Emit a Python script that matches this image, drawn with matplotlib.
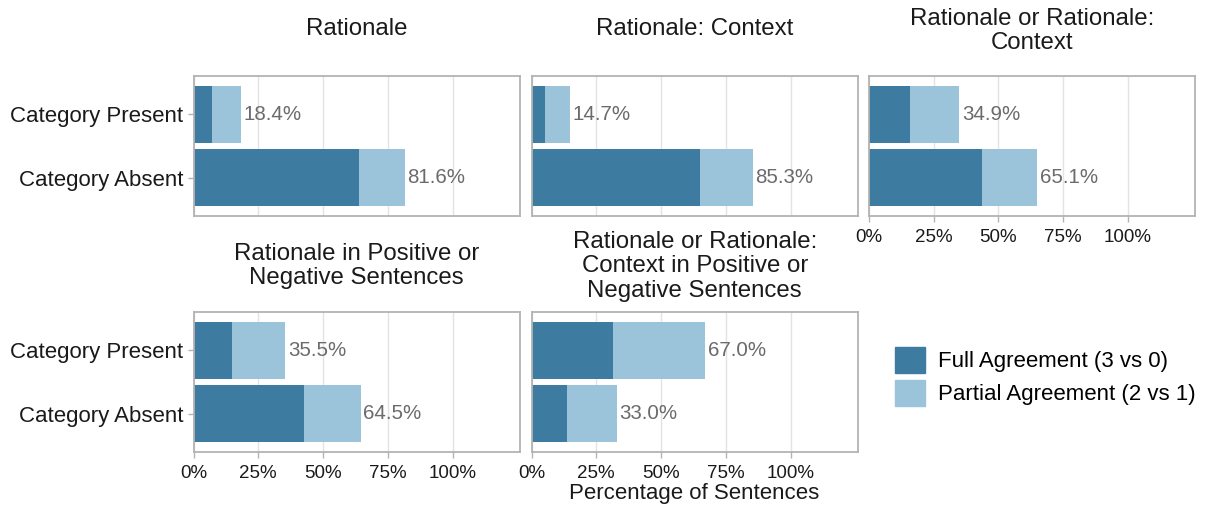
import numpy as np
import matplotlib
matplotlib.use("Agg")
import matplotlib.pyplot as plt
from matplotlib.patches import Patch

plt.rcParams['font.family'] = ['Liberation Sans', 'DejaVu Sans']

# data (percent of sentences)
panel_titles = ["Rationale", "Rationale: Context", "Rationale or Rationale:\nContext",
                "Rationale in Positive or\nNegative Sentences",
                "Rationale or Rationale:\nContext in Positive or\nNegative Sentences"]
categories = ["Category Absent", "Category Present"]
# [absent, present]
full_agree = [[63.8, 7.3], [65.1, 5.1], [43.7, 16.0], [42.8, 14.7], [13.6, 31.3]]
total_pct = [[81.6, 18.4], [85.3, 14.7], [65.1, 34.9], [64.5, 35.5], [33.0, 67.0]]

dark = "#3d7ca0"
light = "#9bc3da"
W, H = 1207, 508

fig = plt.figure(figsize=(W / 100, H / 100), dpi=100)

cols = [(193.5, 520), (531.5, 858), (869, 1195)]
rows = [(76, 216), (312, 452)]
layout = [(0, 0), (0, 1), (0, 2), (1, 0), (1, 1)]
title_y = [29, 29, 31, 266, 266.5]

for i, (r, c) in enumerate(layout):
    x0, x1 = cols[c]
    t, b = rows[r]
    ax = fig.add_axes([x0 / W, 1 - b / H, (x1 - x0) / W, (b - t) / H])
    y = np.arange(1, len(categories) + 1)
    full = np.array(full_agree[i])
    tot = np.array(total_pct[i])
    ax.barh(y, full, height=0.9, color=dark, zorder=2)
    ax.barh(y, tot - full, left=full, height=0.9, color=light, zorder=2)
    for yy, v in zip(y, tot):
        ax.text(v + 1.0, yy, f"{v:.1f}%", va="center", ha="left",
                fontsize=14.8, color="#6b6b6b", zorder=3)
    ax.set_xlim(0, 126)
    ax.set_ylim(0.4, 2.6)
    ax.set_xticks([0, 25, 50, 75, 100])
    ax.grid(axis="x", color="#e3e3e3", linewidth=1, zorder=0)
    ax.set_axisbelow(True)
    for s in ax.spines.values():
        s.set_color("#b3b3b3")
        s.set_linewidth(1.3)
    ax.tick_params(colors="#b3b3b3", labelcolor="#1a1a1a", labelsize=13.5, length=4, width=1)
    ax.tick_params(axis="x", pad=5.5)

    if c == 0:
        ax.set_yticks(y)
        ax.set_yticklabels(categories, fontsize=16)
    else:
        ax.set_yticks([])
    if r == 1 or c == 2:
        ax.set_xticklabels(["0%", "25%", "50%", "75%", "100%"])
    else:
        ax.tick_params(axis="x", length=0, labelbottom=False)

    fig.text((x0 + x1) / 2 / W, 1 - title_y[i] / H, panel_titles[i], ha="center", va="center",
             fontsize=17.3, color="#1a1a1a", linespacing=1.15)

fig.text(694 / W, 1 - 494 / H, "Percentage of Sentences", ha="center", va="center",
         fontsize=16, color="#1a1a1a")

handles = [Patch(color=dark, label="Full Agreement (3 vs 0)"),
           Patch(color=light, label="Partial Agreement (2 vs 1)")]
fig.legend(handles=handles, loc="center left", bbox_to_anchor=(895 / W, 1 - 376.5 / H),
           frameon=False, fontsize=16, handlelength=1.35, handleheight=1.45,
           handletextpad=0.58, labelspacing=0.3, borderpad=0, borderaxespad=0)

fig.savefig("out.png", dpi=100)
